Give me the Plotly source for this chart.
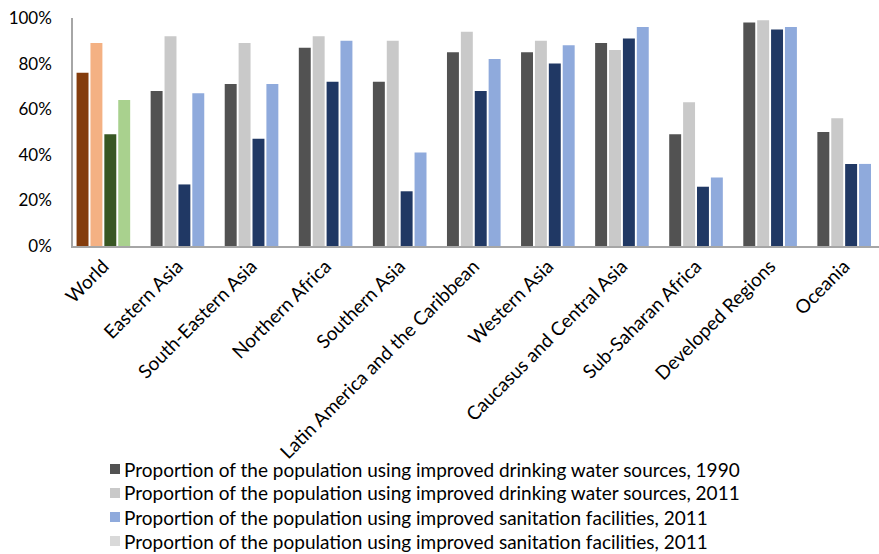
import plotly.graph_objects as go

regions = ["World", "Eastern Asia", "South-Eastern Asia", "Northern Africa", "Southern Asia",
           "Latin America and the Caribbean", "Western Asia", "Caucasus and Central Asia",
           "Sub-Saharan Africa", "Developed Regions", "Oceania"]

water_1990 = [76, 68, 71, 87, 72, 85, 85, 89, 49, 98, 50]
water_2011 = [89, 92, 89, 92, 90, 94, 90, 86, 63, 99, 56]
sanit_1990 = [49, 27, 47, 72, 24, 68, 80, 91, 26, 95, 36]
sanit_2011 = [64, 67, 71, 90, 41, 82, 88, 96, 30, 96, 36]

# World group is highlighted with its own palette
series = [
    (water_1990, "#525252", "#843C0C"),
    (water_2011, "#C9C9C9", "#F4B183"),
    (sanit_1990, "#203864", "#385723"),
    (sanit_2011, "#8FAADC", "#A9D18E"),
]

legend_labels = [
    "Proportion of the population using improved drinking water sources, 1990",
    "Proportion of the population using improved drinking water sources, 2011",
    "Proportion of the population using improved sanitation facilities, 2011",
    "Proportion of the population using improved sanitation facilities, 2011",
]
legend_colors = ["#525252", "#C9C9C9", "#8FAADC", "#D9D9D9"]

FONT = "Lato"
W, H = 879, 554
L, R, T, B = 73, 0, 18, 308
PW, PH = W - L - R, H - T - B


def px_x(x):
    return (x - L) / PW


def px_y(y):
    return (H - B - y) / PH


fig = go.Figure()
for vals, col, world_col in series:
    colors = [world_col] + [col] * (len(regions) - 1)
    fig.add_trace(go.Bar(
        x=regions, y=vals, marker=dict(color=colors, line=dict(width=0)),
        showlegend=False,
    ))

# Legend below the chart: swatch + label per row
row_y = [469, 493, 517, 541]
for label, col, yy in zip(legend_labels, legend_colors, row_y):
    fig.add_shape(
        type="rect", xref="paper", yref="paper",
        x0=px_x(110), x1=px_x(120), y0=px_y(yy + 5), y1=px_y(yy - 5),
        fillcolor=col, line=dict(width=0),
    )
    fig.add_annotation(
        text=label, xref="paper", yref="paper", x=px_x(122), y=px_y(yy),
        xanchor="left", yanchor="middle", showarrow=False,
        font=dict(size=19, family=FONT, color="#000000"),
    )

fig.update_layout(
    width=W, height=H,
    margin=dict(l=L, r=R, t=T, b=B, autoexpand=False),
    paper_bgcolor="white", plot_bgcolor="white",
    barmode="group", bargap=0.25, bargroupgap=0.14,
    font=dict(family=FONT, color="#000000", size=19),
    showlegend=False,
)
fig.update_xaxes(
    range=[-0.41, 10.47], tickangle=-45, showline=True, linecolor="#A6A6A6", linewidth=1.5,
    ticks="", tickfont=dict(size=19, family=FONT), showgrid=False,
)
fig.update_yaxes(
    range=[0, 100], tickvals=[0, 20, 40, 60, 80, 100], ticktext=["0%", "20%", "40%", "60%", "80%", "100%"],
    showline=True, linecolor="#A6A6A6", linewidth=1.5, showgrid=False, zeroline=False,
    ticks="", tickfont=dict(size=17, family=FONT), ticklabelstandoff=16,
)

fig.write_html("out.html")
